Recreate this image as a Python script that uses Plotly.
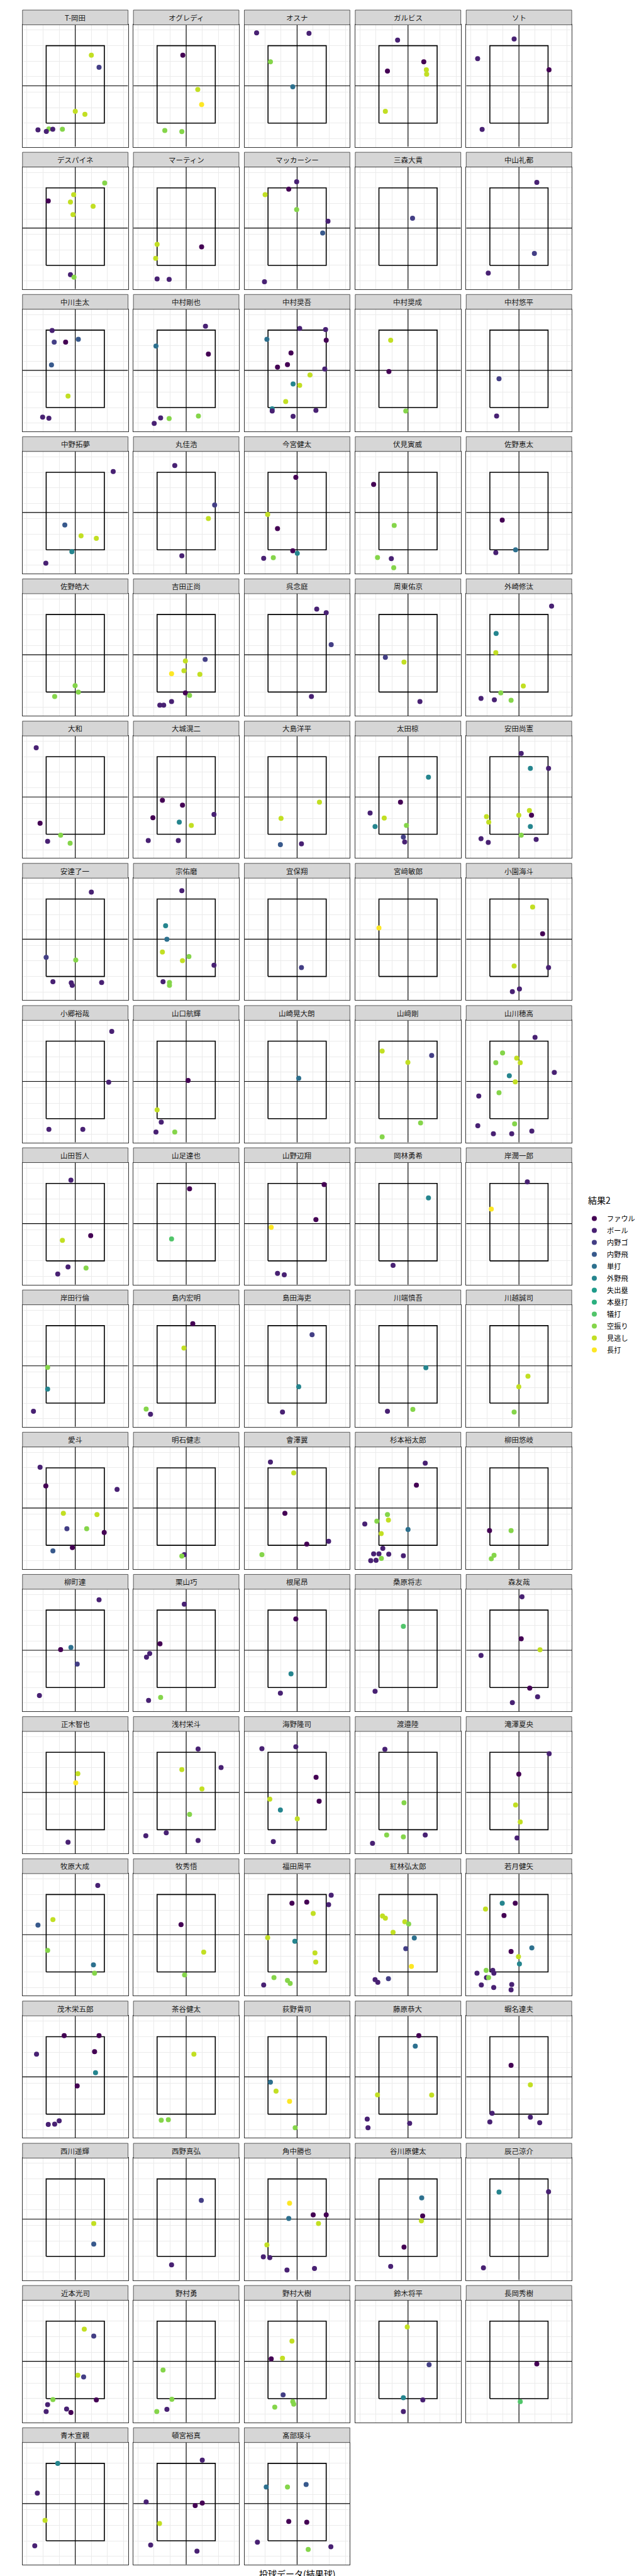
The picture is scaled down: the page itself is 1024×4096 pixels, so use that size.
import plotly.graph_objects as go

# ---------------- data ----------------
players = [
    "T-岡田", "オグレディ", "オスナ", "ガルビス", "ソト",
    "デスパイネ", "マーティン", "マッカーシー", "三森大貴", "中山礼都",
    "中川圭太", "中村剛也", "中村奨吾", "中村奨成", "中村悠平",
    "中野拓夢", "丸佳浩", "今宮健太", "伏見寅威", "佐野恵太",
    "佐野皓大", "吉田正尚", "呉念庭", "周東佑京", "外崎修汰",
    "大和", "大城滉二", "大島洋平", "太田椋", "安田尚憲",
    "安達了一", "宗佑磨", "宜保翔", "宮﨑敏郎", "小園海斗",
    "小郷裕哉", "山口航輝", "山崎晃大朗", "山﨑剛", "山川穂高",
    "山田哲人", "山足達也", "山野辺翔", "岡林勇希", "岸潤一郎",
    "岸田行倫", "島内宏明", "島田海吏", "川端慎吾", "川越誠司",
    "愛斗", "明石健志", "會澤翼", "杉本裕太郎", "柳田悠岐",
    "柳町達", "栗山巧", "根尾昂", "桑原将志", "森友哉",
    "正木智也", "浅村栄斗", "海野隆司", "渡邉陸", "滝澤夏央",
    "牧原大成", "牧秀悟", "福田周平", "紅林弘太郎", "若月健矢",
    "茂木栄五郎", "茶谷健太", "荻野貴司", "藤原恭大", "蝦名達夫",
    "西川遥輝", "西野真弘", "角中勝也", "谷川原健太", "辰己涼介",
    "近本光司", "野村勇", "野村大樹", "鈴木将平", "長岡秀樹",
    "青木宣親", "頓宮裕真", "髙部瑛斗",
]

results = ["ファウル", "ボール", "内野ゴ", "内野飛", "単打", "外野飛",
           "失出塁", "本塁打", "犠打", "空振り", "見逃し", "長打"]
result_codes = "FBGPSOEHTKLD"   # one letter per entry of `results`
result_colors = ["#440154", "#482173", "#433E85", "#38598C", "#2D708E", "#25858E",
                 "#1E9B8A", "#2BB07F", "#51C56A", "#85D54A", "#C2DF23", "#FDE725"]

# strike zone and panel limits (plate x / height z)
zone_x = [-1.81, 1.81]
zone_z = [1.0, 6.0]
x_limits = [-3.282, 3.282]
z_limits = [-0.534, 7.346]
x_major = [-3, -1, 1, 3]
x_minor = [-2, 0, 2]
z_major = [1, 3, 5, 7]
z_minor = [0, 2, 4, 6]

# pitch locations per batter (same order as players)
px = [
    [1.0, 1.48, 0.0, 0.60, -1.64, -2.32, -1.80, -1.40, -0.80],
    [-0.21, 0.72, 0.96, -1.33, -0.27],
    [-2.52, 0.74, -1.66, -0.27],
    [-0.65, 0.98, -1.28, 1.14, 1.16, -1.41],
    [-0.30, -2.57, 1.87, -2.29],
    [1.83, -0.10, -1.68, -0.30, 1.11, -0.14, -0.30, -0.08],
    [-1.81, -1.90, 0.96, -1.81, -1.06],
    [-0.03, -0.52, -1.99, -0.03, 1.92, 1.59, -2.03],
    [0.28],
    [1.11, 0.96, -1.91],
    [-1.44, -1.31, -0.60, 0.19, -1.48, -0.45, -2.03, -1.64],
    [1.20, -1.88, 1.38, 0.76, -1.06, -1.59, -1.99],
    [0.16, 1.77, -1.88, 1.81, -0.38, -1.22, -0.60, 1.72, 0.80, -0.25, 0.16, -0.71, -1.55, -1.55, -0.25, 1.17],
    [-1.08, -1.19, -0.14],
    [-1.24, -1.39],
    [2.36, -0.65, 0.36, 1.31, -0.21, -1.83],
    [-0.71, 1.77, 1.38, -0.27],
    [-0.08, -1.83, -1.22, -0.27, 0.01, -2.08, -1.48],
    [-2.14, -0.86, -1.90, -1.04, -0.89],
    [-1.04, -1.44, -0.21],
    [-0.01, 0.19, -1.28],
    [-0.05, 1.18, -0.14, -0.91, 0.85, -0.05, 0.21, -0.91, -1.64, -1.40],
    [1.22, 1.81, 2.12, 0.89],
    [-1.41, -0.25, 0.74],
    [2.03, -1.42, -1.44, 0.27, -1.13, -2.36, -1.53, -0.49],
    [-2.43, -2.19, -0.91, -1.72, -0.32],
    [-1.48, -0.23, 1.73, -2.07, -0.43, 0.32, -2.36, -0.49],
    [1.39, -1.00, -1.04, 0.27],
    [1.27, -0.47, -2.36, -1.48, -2.05, -0.10, -0.29, -0.21],
    [0.14, 0.71, 1.84, 0.65, -0.01, 0.78, -2.02, -1.88, 0.71, 0.14, -2.36, -1.91, 1.07],
    [1.00, -1.81, 0.03, -1.39, -0.25, -0.19, 1.64],
    [-0.27, -1.28, -1.20, -1.48, 0.17, -0.23, 1.73, -1.44, -1.04, -1.04],
    [0.27],
    [-1.81],
    [0.85, 1.47, -0.30, 1.84, 0.03, -0.41],
    [2.27, 2.08, -1.64, 0.47],
    [0.12, -1.81, -1.55, -1.88, -0.71],
    [0.10],
    [-1.61, -0.01, 1.47, 0.78, -1.61],
    [1.00, -1.02, -1.44, -0.14, 0.08, -0.60, 2.20, -0.23, -2.50, -1.24, -2.56, -0.27, -1.59, -0.45, 0.80],
    [-0.27, 0.96, -0.80, -0.45, -1.09, 0.67],
    [0.21, -0.91],
    [1.68, 1.17, -1.61, -1.22, -0.80],
    [1.27, -0.93],
    [0.52, -1.72],
    [-1.72, -1.72, -2.60],
    [0.41, -0.14, -2.49, -2.22],
    [0.93, 0.10, -0.91],
    [1.11, -1.28, 0.30],
    [0.56, -0.01, -0.30],
    [-2.19, -1.83, 2.60, -0.74, 1.35, -0.52, 0.71, 1.80, -0.18, -1.39],
    [-0.12, -0.27],
    [-1.66, -0.21, -0.76, 0.60, 1.96, -2.19],
    [1.07, 0.52, -1.28, -1.94, -1.22, -2.69, 0.00, -1.67, -1.57, -2.14, -1.81, -1.20, -0.29, -2.32, -1.99, -1.66],
    [-1.83, -0.49, -1.55, -1.72],
    [1.48, -0.27, -0.91, 0.12, -2.23],
    [-0.12, -1.63, -2.27, -2.47, -2.34, -1.59],
    [-0.08, -0.38, -1.04],
    [-0.29, -2.05],
    [0.19, 0.14, 1.31, -2.36, 0.67, 1.16, -0.41],
    [0.16, 0.03, -0.45],
    [0.74, 2.17, -0.27, 0.98, 0.21, -1.24, -2.51, 0.74],
    [-2.19, -0.08, 1.18, 1.37, -1.70, -1.04, 0.01, -1.48],
    [-1.44, -0.25, -1.33, -0.29, 1.07, -2.21],
    [1.88, -0.01, -0.21, 0.08, -0.12],
    [1.40, -1.39, -2.32, -1.72, 1.13, 1.20],
    [-0.32, 1.09, -0.10],
    [2.12, -0.32, 0.60, 1.96, 1.00, -1.83, -0.14, 1.11, 1.16, -1.44, -0.60, -0.43, -2.08],
    [-1.59, -1.41, -0.20, 0.04, -0.93, 0.39, -0.14, 0.21, -2.05, -1.88, -1.22],
    [-1.04, -0.23, -2.08, -0.93, -0.49, 0.80, -0.03, 0.03, -2.04, -1.63, -2.61, -1.56, -2.02, -1.89, -2.34, -1.57, -0.45, -0.49],
    [-0.69, 1.48, -2.41, 1.20, 1.26, 0.12, -1.00, -1.28, -1.68],
    [0.48, -1.11, -1.55],
    [-1.66, -1.31, -0.47, -0.12],
    [0.67, 0.45, -1.90, 1.47, -2.54, -2.49, 0.10],
    [-0.49, 0.71, -1.67, -1.81, 0.71, 1.29],
    [1.15, 1.15],
    [0.94, -0.91],
    [-0.47, 1.00, 1.81, -0.52, 1.33, -1.88, -2.10, -1.70, -0.63, 1.08],
    [0.85, 0.91, 0.83, -0.25, -1.08],
    [-1.24, 1.84, -2.21],
    [0.56, 1.15, 0.16, 0.52, -1.39, 1.31, -1.72, -0.54, -0.27, -1.81],
    [-1.44, -0.89, -1.83, -1.20],
    [-0.32, -0.91, -1.61, -0.87, -0.27, -0.21, -1.39],
    [-0.05, 1.31, -0.29, 0.92, -0.29],
    [1.11, 0.08],
    [-1.09, -2.36, -1.88, -2.52],
    [1.00, -2.49, 1.00, 0.56, -1.66, -2.21, 0.67],
    [-1.92, -0.60, 0.56, -0.52, 0.60, -2.47, 0.69, 2.10],
]

pz = [
    [5.39, 4.60, 1.76, 1.57, 0.63, 0.57, 0.46, 0.61, 0.61],
    [5.39, 3.17, 2.20, 0.53, 0.45],
    [6.83, 6.80, 4.96, 3.35],
    [6.36, 4.96, 4.36, 4.44, 4.16, 1.76],
    [6.43, 5.16, 4.44, 0.60],
    [6.31, 5.56, 5.16, 5.09, 4.81, 4.28, 0.40, 0.24],
    [2.36, 1.45, 2.20, 0.12, 0.09],
    [6.40, 5.92, 5.56, 4.60, 3.85, 3.09, -0.06],
    [4.04],
    [6.36, 1.77, 0.50],
    [5.98, 5.22, 5.22, 5.41, 3.75, 1.74, 0.38, 0.31],
    [6.25, 4.97, 4.45, 0.45, 0.29, 0.33, -0.02],
    [6.11, 6.04, 5.41, 5.35, 4.52, 3.61, 3.77, 3.49, 3.10, 2.53, 2.43, 1.39, 0.92, 0.78, 0.43, 0.82],
    [5.35, 3.33, 0.78],
    [2.86, 0.45],
    [6.05, 2.60, 1.90, 1.74, 0.88, 0.14],
    [6.44, 3.89, 3.02, 0.61],
    [5.68, 3.28, 2.37, 0.94, 0.78, 0.45, 0.49],
    [5.22, 2.57, 0.50, 0.43, -0.16],
    [2.92, 0.82, 1.00],
    [1.41, 0.99, 0.71],
    [3.00, 3.10, 2.37, 2.18, 2.14, 0.94, 0.78, 0.38, 0.15, 0.15],
    [6.35, 6.12, 4.06, 0.71],
    [3.24, 2.93, 0.38],
    [6.54, 4.78, 3.54, 1.39, 0.94, 0.59, 0.50, 0.47],
    [6.58, 1.71, 0.94, 0.54, 0.42],
    [3.19, 2.88, 2.28, 2.06, 1.78, 1.57, 0.59, 0.59],
    [3.07, 2.02, 0.33, 0.38],
    [4.68, 3.07, 2.37, 2.04, 1.50, 1.57, 0.82, 0.50],
    [6.21, 5.25, 5.25, 2.53, 2.23, 2.23, 2.14, 1.78, 1.50, 0.94, 0.71, 0.47, 0.66],
    [6.44, 2.23, 2.06, 0.66, 0.59, 0.43, 0.61],
    [6.54, 4.27, 3.40, 2.58, 2.28, 2.02, 1.72, 0.66, 0.61, 0.43],
    [1.57],
    [4.13],
    [5.48, 3.75, 1.67, 1.57, 0.19, 0.02],
    [6.63, 3.35, 0.31, 0.31],
    [3.47, 1.57, 0.78, 0.14, 0.14],
    [3.61],
    [5.36, 4.63, 5.08, 0.73, -0.18],
    [6.25, 5.24, 4.61, 4.91, 4.61, 3.77, 3.98, 3.37, 2.46, 2.67, 0.54, 0.66, 0.03, 0.03, 0.20],
    [6.21, 2.63, 2.32, 0.61, 0.15, 0.54],
    [5.65, 2.42],
    [5.93, 3.66, 3.17, 0.19, 0.10],
    [5.06, 0.71],
    [6.10, 4.34],
    [3.30, 1.90, 0.47],
    [6.13, 4.55, 0.61, 0.28],
    [5.41, 2.06, 0.42],
    [3.28, 0.47, 0.59],
    [2.74, 2.06, 0.42],
    [6.04, 4.83, 4.61, 3.07, 2.98, 2.07, 2.07, 1.83, 0.85, 0.64],
    [0.40, 0.31],
    [6.37, 5.67, 3.07, 1.08, 1.26, 0.40],
    [6.30, 4.88, 2.98, 2.56, 2.63, 2.38, 2.02, 1.76, 0.80, 0.45, 0.45, 0.43, 0.33, 0.01, 0.03, 0.15],
    [1.95, 1.95, 0.36, 0.13],
    [6.66, 3.59, 3.45, 2.51, 0.48],
    [6.38, 3.82, 3.19, 2.96, 0.17, 0.36],
    [5.43, 1.88, 0.64],
    [4.95, 0.76],
    [6.86, 4.15, 3.44, 3.07, 0.96, 0.40, 0.03],
    [4.62, 4.03, 0.19],
    [6.21, 5.01, 4.88, 3.63, 1.99, 0.80, 0.61, 0.31],
    [6.23, 6.35, 4.39, 2.84, 2.98, 2.28, 1.71, 0.24],
    [6.19, 2.74, 0.66, 0.54, 0.66, 0.12],
    [5.91, 4.59, 2.60, 1.50, 0.47],
    [6.58, 4.38, 4.03, 2.39, 1.46, 0.92],
    [4.06, 2.28, 0.81],
    [5.95, 5.44, 5.51, 5.34, 4.78, 3.21, 2.98, 2.23, 1.64, 0.64, 0.45, 0.26, 0.16],
    [4.61, 4.47, 4.24, 4.10, 3.56, 3.19, 2.50, 1.36, 0.50, 0.33, 0.57],
    [5.44, 5.44, 5.06, 4.64, 2.32, 2.55, 1.99, 1.52, 1.10, 1.10, 0.92, 0.92, 0.64, 0.64, 0.16, 0.00, 0.19, -0.16],
    [6.07, 6.07, 4.87, 5.04, 3.68, 2.82, 0.57, 0.36, 0.34],
    [4.87, 0.64, 0.61],
    [3.07, 2.49, 1.83, 0.12],
    [6.07, 5.39, 2.25, 2.23, 0.68, 0.12, 0.41],
    [4.15, 2.89, 1.06, 0.50, 0.80, 0.45],
    [3.12, 1.79],
    [4.62, 0.45],
    [4.43, 3.68, 3.68, 3.45, 3.12, 1.74, 0.97, 0.92, 0.12, 0.22],
    [4.78, 3.61, 3.30, 1.60, 0.35],
    [5.15, 5.17, 0.26],
    [5.48, 5.04, 2.51, 2.40, 0.94, 0.92, 0.61, 0.33, 0.10, 0.17],
    [2.84, 0.96, 0.17, 0.31],
    [4.71, 3.61, 3.56, 1.24, 0.80, 0.64, 0.45],
    [5.63, 3.19, 1.06, 0.92, 0.17],
    [3.24, 0.80],
    [6.00, 4.08, 2.32, 0.68],
    [6.21, 3.51, 3.44, 3.28, 2.12, 0.73, 0.33],
    [4.47, 4.47, 4.64, 2.25, 2.20, 0.91, 0.44, 0.62],
]

# pitch results per batter, one letter of result_codes per pitch
pres = [
    "LGLLKBBBK", "FLDKK", "BBKS", "BFFLLL", "BBFB",
    "KLFLLLBK", "LLFBB", "BFLKBPB", "G", "BGB",
    "BGFPPLBB", "BSFKKBB", "BBSFFFFBLOLLOBBB", "LFK", "GB",
    "BPLLOB", "BGLB", "FLFFOBK", "FKKBK", "FBS",
    "KKK", "LGLDLFKBBB", "BBGB", "GLB", "BOLLKBBK",
    "BFKBK", "FFBFOLBB", "LLPB", "OFBLOKGB", "BOBLLFLLOKBBB",
    "BGKBBBB", "BOSLKLBBKK", "G", "D", "LFLBBB",
    "BBBB", "FLBBK", "S", "LLGKK", "BKKLLOBLBKBKBBB",
    "BFLBBK", "FT", "FFDBB", "OB", "BD",
    "KOB", "FLKB", "GOB", "OBK", "LLK",
    "BFBLLGKFFP", "BK", "BLFFBK", "BFKKLBSLBBBBBBBK", "FKKK",
    "BSFGB", "BFBBBK", "FOB", "TB", "BFLBFBB",
    "LDB", "BBLLKBBB", "BBFFLOLB", "BKKKBB", "BFLLB",
    "BLPKSK", "FLK", "BFFBLLOLLKKKB", "LLLKLSGDBBG", "OFLFFSLOKBBBBKBBBB",
    "FFBFOFBBB", "LKK", "SLDK", "FSLLBBB", "FLBBBB",
    "LP", "GB", "DFFSLLBBBB", "SFLFB", "OBB",
    "LGLGKFBBFB", "KKKB", "LLFGKKK", "LGOBB", "FT",
    "OBLB", "BBFFLBB", "SKPFFBKB",
]

# ---------------- layout geometry (reference pixels 1920 x 7680) ----------------
REF_W, REF_H = 1920.0, 7680.0
N_COLS = 5
COL_LEFT0, COL_PITCH, PANEL_W = 52.1, 330.7, 314.6
ROW_PITCH, STRIP_TOP, PANEL_TOP, PANEL_BOTTOM = 424.0, 15.0, 59.0, 423.0
FONT = "Noto Sans CJK JP"
cross_z = (z_limits[0] + z_limits[1]) / 2.0

fig = go.Figure()
shapes, annotations = [], []
layout_axes = {}

for i, name in enumerate(players):
    r, c = divmod(i, N_COLS)
    left = COL_LEFT0 + COL_PITCH * c
    right = left + PANEL_W
    top = PANEL_TOP + ROW_PITCH * r
    bottom = PANEL_BOTTOM + ROW_PITCH * r
    stop = STRIP_TOP + ROW_PITCH * r
    sfx = "" if i == 0 else str(i + 1)
    xa, ya = "x" + sfx, "y" + sfx

    common = dict(showticklabels=False, ticks="", zeroline=False, fixedrange=True,
                  showgrid=True, gridcolor="#EBEBEB", gridwidth=1.4,
                  showline=True, mirror=True, linecolor="#333333", linewidth=0.8)
    layout_axes["xaxis" + sfx] = dict(
        domain=[left / REF_W, right / REF_W], anchor=ya, range=x_limits,
        tickvals=x_major,
        minor=dict(tickvals=x_minor, showgrid=True, gridcolor="#EBEBEB", gridwidth=0.9, ticks=""),
        **common)
    layout_axes["yaxis" + sfx] = dict(
        domain=[1 - bottom / REF_H, 1 - top / REF_H], anchor=xa, range=z_limits,
        tickvals=z_major,
        minor=dict(tickvals=z_minor, showgrid=True, gridcolor="#EBEBEB", gridwidth=0.9, ticks=""),
        **common)

    # strike zone
    fig.add_trace(go.Scatter(
        x=[zone_x[0], zone_x[1], zone_x[1], zone_x[0], zone_x[0]],
        y=[zone_z[0], zone_z[0], zone_z[1], zone_z[1], zone_z[0]],
        mode="lines", line=dict(color="black", width=1.6),
        xaxis=xa, yaxis=ya, showlegend=False, hoverinfo="skip"))
    # cross hair
    fig.add_trace(go.Scatter(
        x=[x_limits[0], x_limits[1], None, 0, 0],
        y=[cross_z, cross_z, None, z_limits[0], z_limits[1]],
        mode="lines", line=dict(color="black", width=1.15),
        xaxis=xa, yaxis=ya, showlegend=False, hoverinfo="skip"))
    # pitches
    cols = [result_colors[result_codes.index(ch)] for ch in pres[i]]
    labels = [results[result_codes.index(ch)] for ch in pres[i]]
    fig.add_trace(go.Scatter(
        x=px[i], y=pz[i], mode="markers",
        marker=dict(color=cols, size=8, line=dict(width=0)),
        text=labels, hoverinfo="text",
        xaxis=xa, yaxis=ya, showlegend=False))

    # facet strip
    shapes.append(dict(type="rect", xref="paper", yref="paper",
                       x0=left / REF_W, x1=right / REF_W,
                       y0=1 - top / REF_H, y1=1 - stop / REF_H,
                       fillcolor="#D6D6D6", line=dict(color="#333333", width=0.8),
                       layer="above"))
    annotations.append(dict(text=name, xref="paper", yref="paper",
                            x=(left + right) / 2 / REF_W,
                            y=1 - (stop + top) / 2 / REF_H,
                            xanchor="center", yanchor="middle", showarrow=False,
                            font=dict(family=FONT, size=11.5, color="#1A1A1A")))

# legend entries
for name, col in zip(results, result_colors):
    fig.add_trace(go.Scatter(x=[None], y=[None], mode="markers", name=name,
                             legendgroup=name,
                             marker=dict(color=col, size=8, line=dict(width=0)),
                             xaxis="x", yaxis="y", showlegend=True))

annotations.append(dict(text="結果2", xref="paper", yref="paper",
                        x=1735 / REF_W, y=1 - 3563 / REF_H,
                        xanchor="left", yanchor="middle", showarrow=False,
                        font=dict(family=FONT, size=14, color="black")))
annotations.append(dict(text="投球データ(結果球)", xref="paper", yref="paper",
                        x=870 / REF_W, y=1 - 7657 / REF_H,
                        xanchor="center", yanchor="middle", showarrow=False,
                        font=dict(family=FONT, size=14, color="black")))

fig.update_layout(
    template="none",
    width=1024, height=4096,
    margin=dict(l=0, r=0, t=0, b=0),
    paper_bgcolor="white", plot_bgcolor="white",
    font=dict(family=FONT, color="black"),
    shapes=shapes, annotations=annotations,
    showlegend=True,
    legend=dict(x=917 / 1024, y=1 - 1915 / 4096, xanchor="left", yanchor="top",
                bgcolor="rgba(0,0,0,0)", borderwidth=0,
                font=dict(family=FONT, size=11.2, color="black"),
                tracegroupgap=5.5, traceorder="normal", itemclick=False),
    **layout_axes,
)

fig.write_html("out.html")
